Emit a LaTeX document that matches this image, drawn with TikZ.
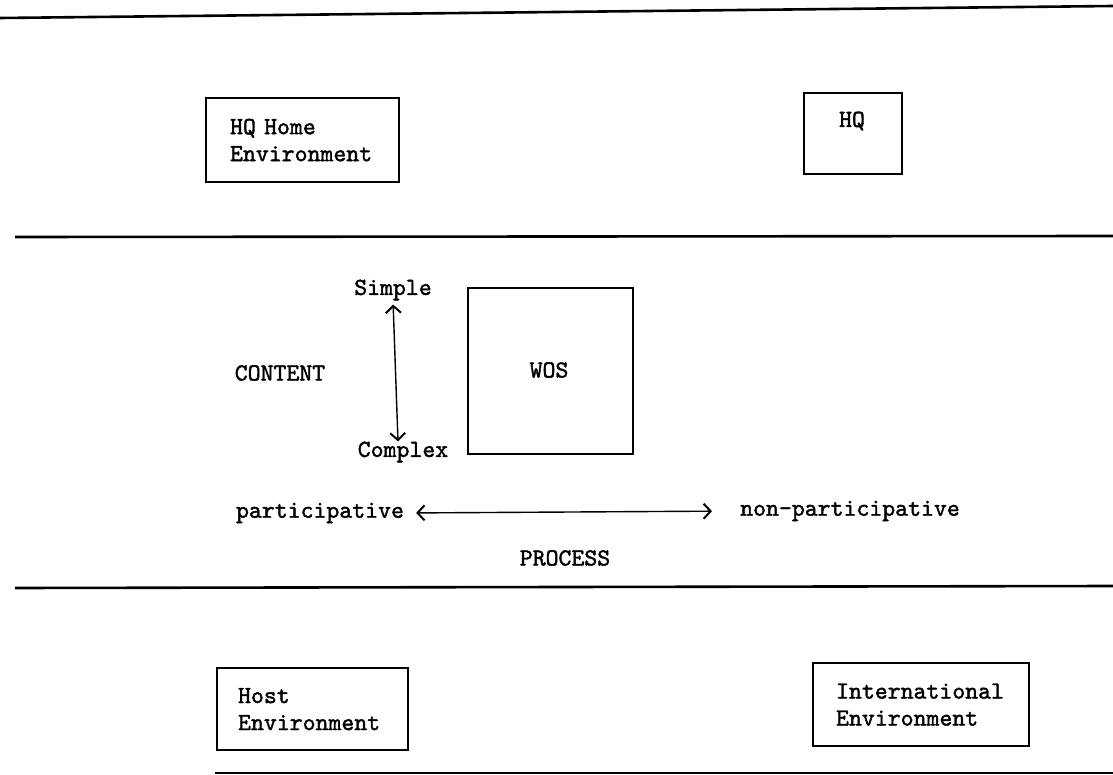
\documentclass[tikz,border=0pt]{standalone}
\usepackage{fontspec}
\setmonofont[FakeBold=1.6]{lmmono10-regular.otf}
\usetikzlibrary{arrows.meta}
\begin{document}
\begin{tikzpicture}[x=1pt,y=-1pt,
  every node/.style={font=\ttfamily\fontsize{24.6}{27}\selectfont, inner sep=0pt},
  rule/.style={line width=2.6pt},
  frame/.style={draw, line width=2.2pt, anchor=north west, inner sep=0pt},
  txtbox/.style={frame, align=left, inner ysep=0pt},
  arr/.style={line width=1.4pt, {Straight Barb[length=7pt,width=15pt,line width=2pt]}-{Straight Barb[length=7pt,width=15pt,line width=2pt]}}]
\useasboundingbox (0,0) rectangle (1113,775);
% horizontal rules
\coordinate (r1a) at (0,18);   \coordinate (r1b) at (1113,6);
\coordinate (r2a) at (15,237); \coordinate (r2b) at (1113,236);
\coordinate (r3a) at (15,588); \coordinate (r3b) at (1113,586);
\coordinate (r4a) at (215,773); \coordinate (r4b) at (1113,773);
\draw[rule] (r1a) -- (r1b);
\draw[rule] (r2a) -- (r2b);
\draw[rule] (r3a) -- (r3b);
\draw[rule] (r4a) -- (r4b);
% top boxes
\node[txtbox, inner xsep=24pt, text width=145pt, minimum height=84pt] (home) at (205,97) {HQ Home\\Environment};
\node[frame, minimum width=98pt, minimum height=81pt] (hq) at (803,92) {};
\node (hqt) at (852,121) {HQ};
% middle
\node[frame, minimum width=165pt, minimum height=166pt] (wos) at (467,287) {};
\node (wost) at (549,370) {WOS};
\node (simple) at (393,290) {Simple};
\node (complex) at (403,452) {Complex};
\node (content) at (280,373) {CONTENT};
\draw[arr, shorten <=4pt] (simple.south) -- ([xshift=-5pt]complex.north);
\node (part) at (320,513) {participative};
\node (nonpart) at (850,511) {non-participative};
\node (process) at (565,558) {PROCESS};
\draw[arr, shorten <=12pt, shorten >=28pt] (part.east) -- (nonpart.west);
% bottom boxes
\node[txtbox, inner xsep=21pt, text width=149pt, minimum height=82pt] (host) at (216,667) {Host\\Environment};
\node[txtbox, inner xsep=23pt, text width=170pt, minimum height=83pt] (intl) at (812,662) {International\\Environment};
\end{tikzpicture}
\end{document}
